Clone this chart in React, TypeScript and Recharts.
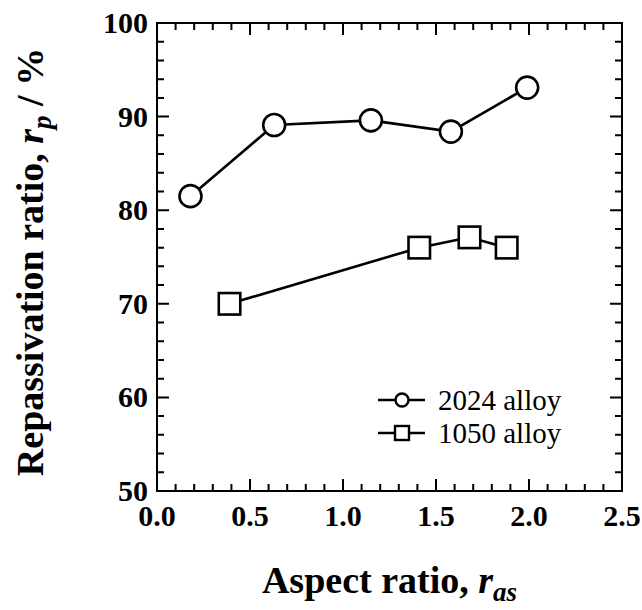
import React from 'react';
import { LineChart, Line, XAxis, YAxis, Legend } from 'recharts';

const alloy2024X = [0.18, 0.63, 1.15, 1.58, 1.99];
const alloy2024Y = [81.5, 89.1, 89.6, 88.4, 93.1];
const alloy1050X = [0.39, 1.41, 1.68, 1.88];
const alloy1050Y = [70.0, 76.0, 77.1, 76.0];

const xDomain = [0, 2.5];
const yDomain = [50, 100];
const xTicks = [0, 0.1, 0.2, 0.3, 0.4, 0.5, 0.6, 0.7, 0.8, 0.9, 1.0, 1.1, 1.2, 1.3, 1.4, 1.5, 1.6, 1.7, 1.8, 1.9, 2.0, 2.1, 2.2, 2.3, 2.4, 2.5];
const xMajor = [0, 0.5, 1.0, 1.5, 2.0, 2.5];
const yTicks = [50, 52, 54, 56, 58, 60, 62, 64, 66, 68, 70, 72, 74, 76, 78, 80, 82, 84, 86, 88, 90, 92, 94, 96, 98, 100];
const yMajor = [50, 60, 70, 80, 90, 100];

const data2024 = alloy2024X.map((x, i) => ({ x, y: alloy2024Y[i] }));
const data1050 = alloy1050X.map((x, i) => ({ x, y: alloy1050Y[i] }));

// layout constants
const CHART_W = 642;
const CHART_H = 610;
const MARGIN = { top: 23, right: 20, bottom: 0, left: 0 };
const XAXIS_H = 119;
const YAXIS_W = 157;
const PLOT_W = CHART_W - MARGIN.left - MARGIN.right - YAXIS_W;
const PLOT_H = CHART_H - MARGIN.top - MARGIN.bottom - XAXIS_H;

const FONT = '"Liberation Serif", "Times New Roman", serif';
const isIn = (arr: number[], v: number) => arr.some((m) => Math.abs(m - v) < 1e-6);

const BottomTick = (props: any) => {
  const { x, y, payload } = props;
  const v = payload.value;
  const major = isIn(xMajor, v);
  const len = major ? 12 : 7;
  const top = y - PLOT_H;
  return (
    <g>
      <path d={`M${x},${y}L${x},${y - len}M${x},${top}L${x},${top + len}`} stroke="#000" strokeWidth={2} fill="none" />
      {major && (
        <text x={x} y={y + 35} textAnchor="middle" fontFamily={FONT} fontWeight="bold" fontSize={30} fill="#000">
          {v.toFixed(1)}
        </text>
      )}
    </g>
  );
};

const LeftTick = (props: any) => {
  const { x, y, payload } = props;
  const v = payload.value;
  const major = isIn(yMajor, v);
  const len = major ? 12 : 7;
  const right = x + PLOT_W;
  return (
    <g>
      <path d={`M${x},${y}L${x + len},${y}M${right},${y}L${right - len},${y}`} stroke="#000" strokeWidth={2} fill="none" />
      {major && (
        <text x={x - 9} y={y + 10} textAnchor="end" fontFamily={FONT} fontWeight="bold" fontSize={30} fill="#000">
          {v}
        </text>
      )}
    </g>
  );
};

const XTitle = (props: any) => {
  const vb = props.viewBox;
  const cx = vb.x + vb.width / 2;
  return (
    <text x={cx} y={vb.y + 102} textAnchor="middle" fontFamily={FONT} fontWeight="bold" fontSize={38} fill="#000">
      Aspect ratio, <tspan fontStyle="italic">r</tspan>
      <tspan fontStyle="italic" fontSize={27} dy={8}>as</tspan>
    </text>
  );
};

const YTitle = (props: any) => {
  const vb = props.viewBox;
  const cx = 43;
  const cy = vb.y + vb.height / 2 + 5;
  return (
    <text x={cx} y={cy} transform={`rotate(-90, ${cx}, ${cy})`} textAnchor="middle" fontFamily={FONT} fontWeight="bold" fontSize={38} fill="#000">
      Repassivation ratio, <tspan fontStyle="italic">r</tspan>
      <tspan fontStyle="italic" fontSize={27} dy={8}>p</tspan>
      <tspan dy={-8}> / %</tspan>
    </text>
  );
};

const SquareDot = (props: any) => {
  const { cx, cy } = props;
  if (cx == null || cy == null) return null;
  const s = 21.5;
  return <rect x={cx - s / 2} y={cy - s / 2} width={s} height={s} fill="#fff" stroke="#000" strokeWidth={2.6} />;
};

const LegendContent = () => (
  <svg width={250} height={70} style={{ display: 'block' }}>
    <line x1={8} y1={17} x2={55} y2={17} stroke="#000" strokeWidth={2.6} />
    <circle cx={32} cy={17} r={6.5} fill="#fff" stroke="#000" strokeWidth={2.4} />
    <text x={68} y={27} fontFamily={FONT} fontSize={29} fill="#000">2024 alloy</text>
    <line x1={8} y1={50} x2={55} y2={50} stroke="#000" strokeWidth={2.6} />
    <rect x={25} y={43} width={14} height={14} fill="#fff" stroke="#000" strokeWidth={2.4} />
    <text x={68} y={60} fontFamily={FONT} fontSize={29} fill="#000">1050 alloy</text>
  </svg>
);

export default function App() {
  return (
    <div style={{ position: 'absolute', left: 0, top: 0, width: CHART_W, height: CHART_H, background: '#fff' }}>
      <LineChart width={CHART_W} height={CHART_H} margin={MARGIN}>
        <XAxis
          dataKey="x"
          type="number"
          orientation="bottom"
          domain={xDomain}
          allowDataOverflow
          ticks={xTicks}
          interval={0}
          tickSize={0}
          tickMargin={0}
          tickLine={false}
          tick={<BottomTick />}
          height={XAXIS_H}
          axisLine={{ stroke: '#000', strokeWidth: 2 }}
          label={{ content: <XTitle /> }}
        />
        <YAxis
          type="number"
          orientation="left"
          domain={yDomain}
          allowDataOverflow
          ticks={yTicks}
          interval={0}
          tickSize={0}
          tickMargin={0}
          tickLine={false}
          tick={<LeftTick />}
          width={YAXIS_W}
          axisLine={{ stroke: '#000', strokeWidth: 2 }}
          label={{ content: <YTitle /> }}
        />
        <Line
          data={data2024}
          dataKey="y"
          stroke="#000"
          strokeWidth={2.6}
          dot={{ r: 11, fill: '#fff', stroke: '#000', strokeWidth: 2.6 }}
          isAnimationActive={false}
        />
        <Line
          data={data1050}
          dataKey="y"
          stroke="#000"
          strokeWidth={2.6}
          dot={<SquareDot />}
          isAnimationActive={false}
        />
        <Legend
          layout="horizontal"
          verticalAlign="middle"
          align="center"
          content={<LegendContent />}
          wrapperStyle={{ position: 'absolute', left: 370, top: 383, width: 250, height: 70 }}
        />
      </LineChart>
      <div
        style={{
          position: 'absolute',
          left: MARGIN.left + YAXIS_W - 1,
          top: MARGIN.top - 1,
          width: PLOT_W + 2,
          height: PLOT_H + 2,
          border: '2px solid #000',
          boxSizing: 'border-box',
          pointerEvents: 'none',
        }}
      />
    </div>
  );
}
